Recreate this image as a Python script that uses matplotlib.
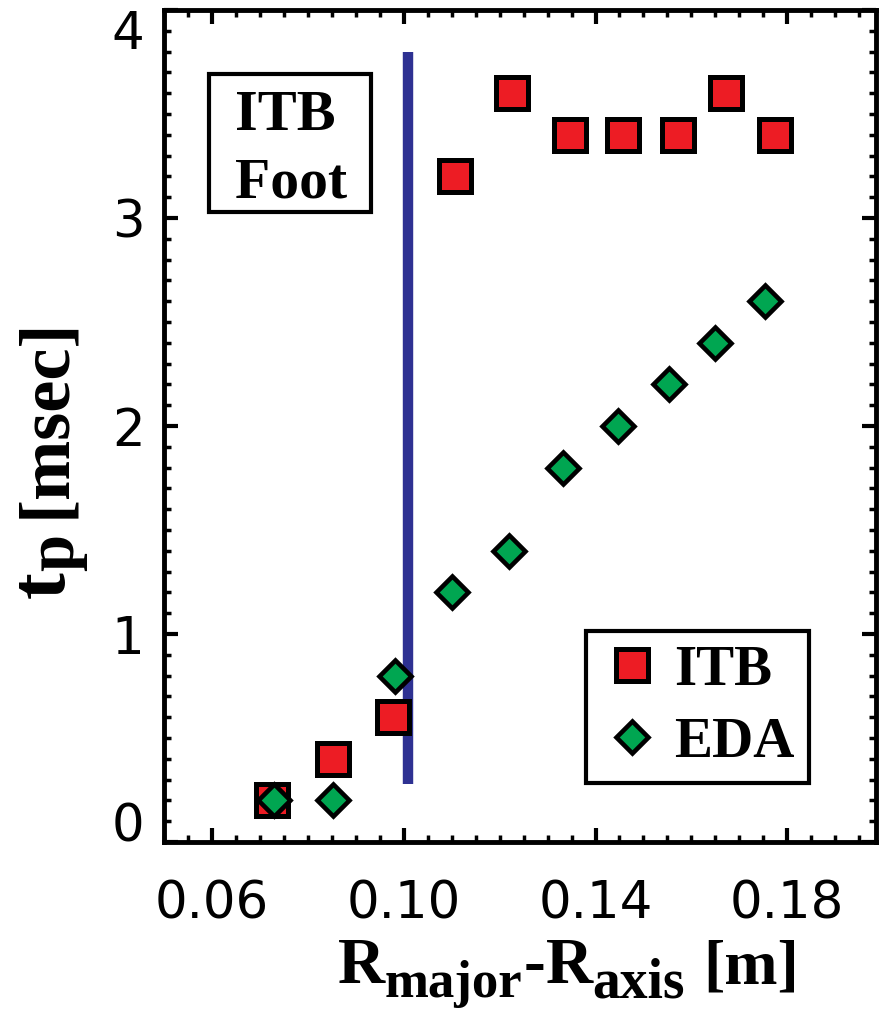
import matplotlib
matplotlib.use("Agg")
import matplotlib.pyplot as plt
from matplotlib.markers import MarkerStyle
from matplotlib.patches import Rectangle
from matplotlib.ticker import MultipleLocator
from matplotlib.transforms import IdentityTransform

# ITB (red squares) and EDA (green diamonds): tau_p [msec] vs R_major - R_axis [m]
itb_r = [0.0725, 0.0852, 0.0977, 0.1106, 0.1225, 0.1346, 0.1458, 0.1573, 0.1673, 0.1775]
itb_tau = [0.20, 0.40, 0.60, 3.20, 3.60, 3.40, 3.40, 3.40, 3.60, 3.40]
eda_r = [0.0729, 0.0852, 0.0981, 0.1100, 0.1219, 0.1333, 0.1446, 0.1554, 0.1650, 0.1754]
eda_tau = [0.20, 0.20, 0.80, 1.20, 1.40, 1.80, 2.00, 2.20, 2.40, 2.60]
foot_r = 0.1008
foot_span = [0.28, 3.80]
x_ticks = [0.06, 0.10, 0.14, 0.18]
y_ticks = [0, 1, 2, 3, 4]

RED = "#ED1C24"
GREEN = "#00A651"
BLUE = "#2E3192"
SERIF = "Liberation Serif"

plt.rcParams["font.family"] = ["DejaVu Sans"]

W, H = 883, 1025
fig = plt.figure(figsize=(W / 100, H / 100), dpi=100)
ax = fig.add_axes([164 / W, 1 - 842 / H, (876 - 164) / W, (842 - 10) / H])

ax.vlines(foot_r, foot_span[0], foot_span[1], color=BLUE, lw=7.5, zorder=1)
ax.plot(itb_r, itb_tau, ls="none", marker=MarkerStyle("s", joinstyle="miter"),
        ms=23.5, mfc=RED, mec="k", mew=3.6, label="ITB", zorder=3)
ax.plot(eda_r, eda_tau, ls="none", marker=MarkerStyle("D", joinstyle="miter"),
        ms=16, mfc=GREEN, mec="k", mew=3.3, label="EDA", zorder=4)

ax.set_xlim(0.05, 0.1985)
ax.set_ylim(0, 4)
ax.set_xticks(x_ticks)
ax.set_xticklabels(["%.2f" % v for v in x_ticks])
ax.xaxis.set_minor_locator(MultipleLocator(0.005))
ax.set_yticks(y_ticks)
ax.set_yticklabels([str(v) for v in y_ticks])
ax.yaxis.set_minor_locator(MultipleLocator(0.1))
for sp in ax.spines.values():
    sp.set_linewidth(3.5)
ax.tick_params(which="both", direction="in", top=True, right=True, labelsize=37)
ax.tick_params(which="major", length=10, width=3)
ax.tick_params(which="minor", length=5, width=2.5)
ax.tick_params(axis="x", pad=27)
ax.tick_params(axis="y", pad=14)
yl = ax.get_yticklabels()
yl[0].set_va("baseline")
yl[-1].set_va("top")

# "ITB Foot" box
ax.add_patch(Rectangle((0.0632, 0.757), 0.2275, 0.166, transform=ax.transAxes,
                       fill=False, ec="k", lw=3, zorder=5))
ax.text(0.0997, 0.856, "ITB", transform=ax.transAxes, ha="left", va="baseline",
        fontsize=42, fontweight="bold", family=SERIF)
ax.text(0.0997, 0.775, "Foot", transform=ax.transAxes, ha="left", va="baseline",
        fontsize=41.5, fontweight="bold", family=SERIF)

leg = ax.legend(loc="lower left", bbox_to_anchor=(0.593, 0.0709), frameon=True,
                fancybox=False, edgecolor="k", framealpha=1, borderpad=0.25,
                handlelength=1.1, handletextpad=0.2, labelspacing=0.34,
                borderaxespad=0, prop={"family": SERIF, "weight": "bold", "size": 41})
leg.get_frame().set_linewidth(3)


def put_runs(x, y, pieces, vertical=False):
    # lay text pieces end to end, pixel coordinates from the bottom left
    r = fig.canvas.get_renderer()
    for s, size, shift, gap in pieces:
        if vertical:
            t = fig.text(x + shift, y, s, transform=IdentityTransform(), rotation=90,
                         rotation_mode="anchor", ha="left", va="baseline",
                         fontsize=size, fontweight="bold", family=SERIF)
            y += t.get_window_extent(r).height + gap
        else:
            t = fig.text(x, y - shift, s, transform=IdentityTransform(),
                         rotation_mode="anchor", ha="left", va="baseline",
                         fontsize=size, fontweight="bold", family=SERIF)
            x += t.get_window_extent(r).width + gap


put_runs(338, H - 983, [("R", 47, 0, 0), ("major", 38, 14, 1), ("-", 47, 0, 0),
                        ("R", 47, 0, 0), ("axis", 40, 14, 18), ("[m]", 46, 0, 0)])
put_runs(64, H - 598, [("t", 58, 0, 0), ("p", 48, 9, 16), ("[msec]", 52, 0, 0)],
         vertical=True)

fig.savefig("out.png", dpi=100)
